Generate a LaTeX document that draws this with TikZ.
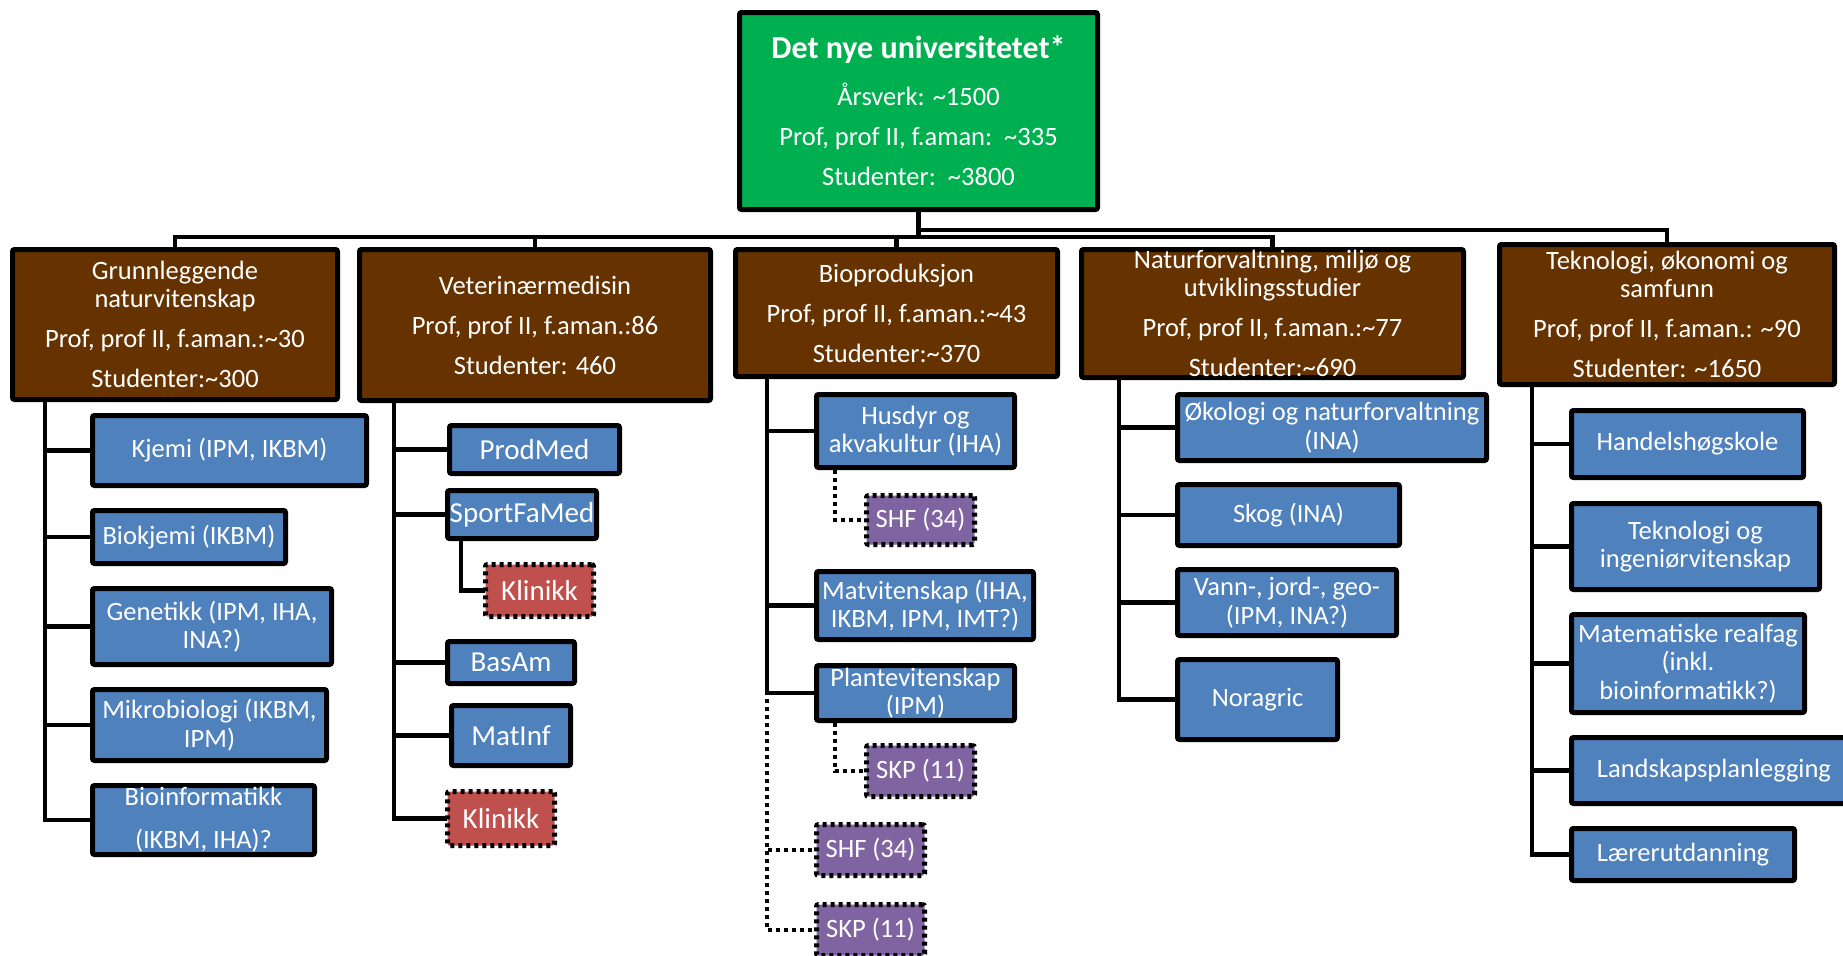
\documentclass[tikz,border=0pt]{standalone}
\usepackage{fontspec}
\setmainfont{Carlito}

\definecolor{rootgreen}{HTML}{00B050}
\definecolor{facbrown}{HTML}{663300}
\definecolor{unitblue}{HTML}{4F81BD}
\definecolor{partpurple}{HTML}{8064A2}
\definecolor{clinred}{HTML}{C0504D}

\tikzset{
  boxbase/.style={draw=black, line width=2.5pt, rounded corners=1pt, inner sep=0pt},
  rootbox/.style={boxbase, fill=rootgreen},
  facbox/.style={boxbase, fill=facbrown},
  unitbox/.style={boxbase, fill=unitblue},
  clinbox/.style={boxbase, fill=clinred, dash pattern=on 2pt off 2pt},
  partbox/.style={boxbase, fill=partpurple, dash pattern=on 2pt off 2pt},
  conn/.style={line width=2.4pt, line cap=rect},
  busline/.style={line width=2.2pt, line cap=rect},
  dotconn/.style={line width=2.2pt, dash pattern=on 2pt off 2pt},
  txt/.style={align=center, text=white, inner sep=0pt,
    font=\fontsize{13.25}{14.25}\selectfont},
}

% box from outer corner (x1,y1) to (x2,y2) in pixel units, text centred in it
\newcommand\orgnode[7]{%
  \node[#1, minimum width={(#5-#3-5)*0.5pt}, minimum height={(#6-#4-5)*0.5pt},
        label={[txt, name=#2-t]center:{#7}}]
    (#2) at ({(#3+#5)/2},{(#4+#6)/2}) {};}
\newcommand\vetsize{\fontsize{14.5}{16}\selectfont}
\newcommand\tl{\textasciitilde}

\begin{document}
\begin{tikzpicture}[x=0.5pt, y=-0.5pt]
\useasboundingbox (0,0) rectangle (1843,955);

% top level
\orgnode{rootbox}{root}{737}{10}{1100}{212}{{\fontsize{16}{19}\selectfont\bfseries Det nye universitetet*}\\[9.25pt]%
  Årsverk: \tl 1500\\[5.75pt]Prof, prof II, f.aman:\ \ \tl 335\\[5.75pt]Studenter:\ \ \tl 3800}

% faculties
\orgnode{facbox}{g1}{10}{247}{340}{402}{Grunnleggende\\naturvitenskap\\[5.75pt]Prof, prof II, f.aman.:\tl 30\\[5.75pt]Studenter:\tl 300}
\orgnode{facbox}{g2}{357}{247}{713}{403}{Veterinærmedisin\\[5.75pt]Prof, prof II, f.aman.:86\\[5.75pt]Studenter: 460}
\orgnode{facbox}{g3}{733}{247}{1060}{379}{Bioproduksjon\\[5.75pt]Prof, prof II, f.aman.:\tl 43\\[5.75pt]Studenter:\tl 370}
\orgnode{facbox}{g4}{1079}{247}{1466}{380}{Naturforvaltning, miljø og\\utviklingsstudier\\[5.75pt]Prof, prof II, f.aman.:\tl 77\\[5.75pt]Studenter:\tl 690}
\orgnode{facbox}{g5}{1497}{242}{1837}{387}{Teknologi, økonomi og\\samfunn\\[5.75pt]Prof, prof II, f.aman.: \tl 90\\[5.75pt]Studenter: \tl 1650}

% Grunnleggende naturvitenskap
\orgnode{unitbox}{kjemi}{90}{413}{369}{488}{Kjemi (IPM, IKBM)}
\orgnode{unitbox}{biokjemi}{90}{508}{288}{566}{Biokjemi (IKBM)}
\orgnode{unitbox}{genetikk}{90}{586}{334}{667}{Genetikk (IPM, IHA,\\INA?)}
\orgnode{unitbox}{mikro}{90}{687}{329}{763}{Mikrobiologi (IKBM,\\IPM)}
\orgnode{unitbox}{bioinf}{90}{783}{317}{857}{Bioinformatikk\\[7.25pt](IKBM, IHA)?}

% Veterinaermedisin
\orgnode{unitbox}{prodmed}{447}{423}{622}{476}{\vetsize ProdMed}
\orgnode{unitbox}{sportfamed}{445}{488}{599}{541}{\vetsize SportFaMed}
\orgnode{clinbox}{klinikkA}{483}{562}{596}{619}{\vetsize Klinikk}
\orgnode{unitbox}{basam}{445}{639}{577}{686}{\vetsize BasAm}
\orgnode{unitbox}{matinf}{449}{703}{573}{768}{\vetsize MatInf}
\orgnode{clinbox}{klinikkB}{445}{789}{557}{848}{\vetsize Klinikk}

% Bioproduksjon
\orgnode{unitbox}{husdyr}{814}{392}{1017}{470}{Husdyr og\\akvakultur (IHA)}
\orgnode{partbox}{shfA}{864}{493}{977}{547}{SHF (34)}
\orgnode{unitbox}{matvit}{814}{569}{1036}{642}{Matvitenskap (IHA,\\IKBM, IPM, IMT?)}
\orgnode{unitbox}{plante}{814}{663}{1017}{723}{Plantevitenskap\\(IPM)}
\orgnode{partbox}{skpA}{864}{743}{977}{799}{SKP (11)}
\orgnode{partbox}{shfB}{814}{822}{927}{878}{SHF (34)}
\orgnode{partbox}{skpB}{814}{902}{927}{958}{SKP (11)}

% Naturforvaltning, miljoe og utviklingsstudier
\orgnode{unitbox}{okologi}{1175}{392}{1489}{463}{Økologi og naturforvaltning\\(INA)}
\orgnode{unitbox}{skog}{1175}{482}{1402}{548}{Skog (INA)}
\orgnode{unitbox}{vann}{1175}{567}{1399}{638}{Vann-, jord-, geo-\\(IPM, INA?)}
\orgnode{unitbox}{noragric}{1175}{657}{1340}{742}{Noragric}

% Teknologi, oekonomi og samfunn
\orgnode{unitbox}{handel}{1569}{408}{1806}{480}{Handelshøgskole}
\orgnode{unitbox}{tekning}{1569}{501}{1822}{592}{Teknologi og\\ingeniørvitenskap}
\orgnode{unitbox}{matem}{1569}{612}{1807}{715}{Matematiske realfag\\(inkl.\\bioinformatikk?)}
\orgnode{unitbox}{landskap}{1569}{735}{1859}{806}{Landskapsplanlegging}
\orgnode{unitbox}{laerer}{1569}{826}{1797}{883}{Lærerutdanning}

% bus from the top box to the faculties
\coordinate (busLow) at (0,237);
\coordinate (busHigh) at (0,230);
\draw[conn] (root.south) -- (root.south |- busLow);
\draw[busline] (g1.north) -- (g1.north |- busLow) -- (g4.north |- busLow) -- (g4.north);
\draw[busline] (g2.north) -- (g2.north |- busLow);
\draw[busline] (g3.north) -- (g3.north |- busLow);
\draw[busline] (root.south |- busHigh) -| (g5.north);

% dotted links (drawn first, solid spines go on top)
\draw[dotconn] ([xshift=17pt]g3.south west) |- (shfB.west);
\draw[dotconn] ([xshift=17pt]g3.south west) |- (skpB.west);
\draw[dotconn] ([xshift=10.5pt]husdyr.south west) |- (shfA.west);
\draw[dotconn] ([xshift=10.5pt]plante.south west) |- (skpA.west);

% spines
\foreach \c in {kjemi,biokjemi,genetikk,mikro,bioinf}
  \draw[conn] ([xshift=17.5pt]g1.south west) |- (\c.west);
\foreach \c in {prodmed,sportfamed,basam,matinf,klinikkB}
  \draw[conn] ([xshift=18.5pt]g2.south west) |- (\c.west);
\draw[conn] ([xshift=8pt]sportfamed.south west) |- (klinikkA.west);
\foreach \c in {husdyr,matvit,plante}
  \draw[conn] ([xshift=17pt]g3.south west) |- (\c.west);
\foreach \c in {okologi,skog,vann,noragric}
  \draw[conn] ([xshift=20pt]g4.south west) |- (\c.west);
\foreach \c in {handel,tekning,matem,landskap,laerer}
  \draw[conn] ([xshift=17.5pt]g5.south west) |- (\c.west);
\end{tikzpicture}
\end{document}
